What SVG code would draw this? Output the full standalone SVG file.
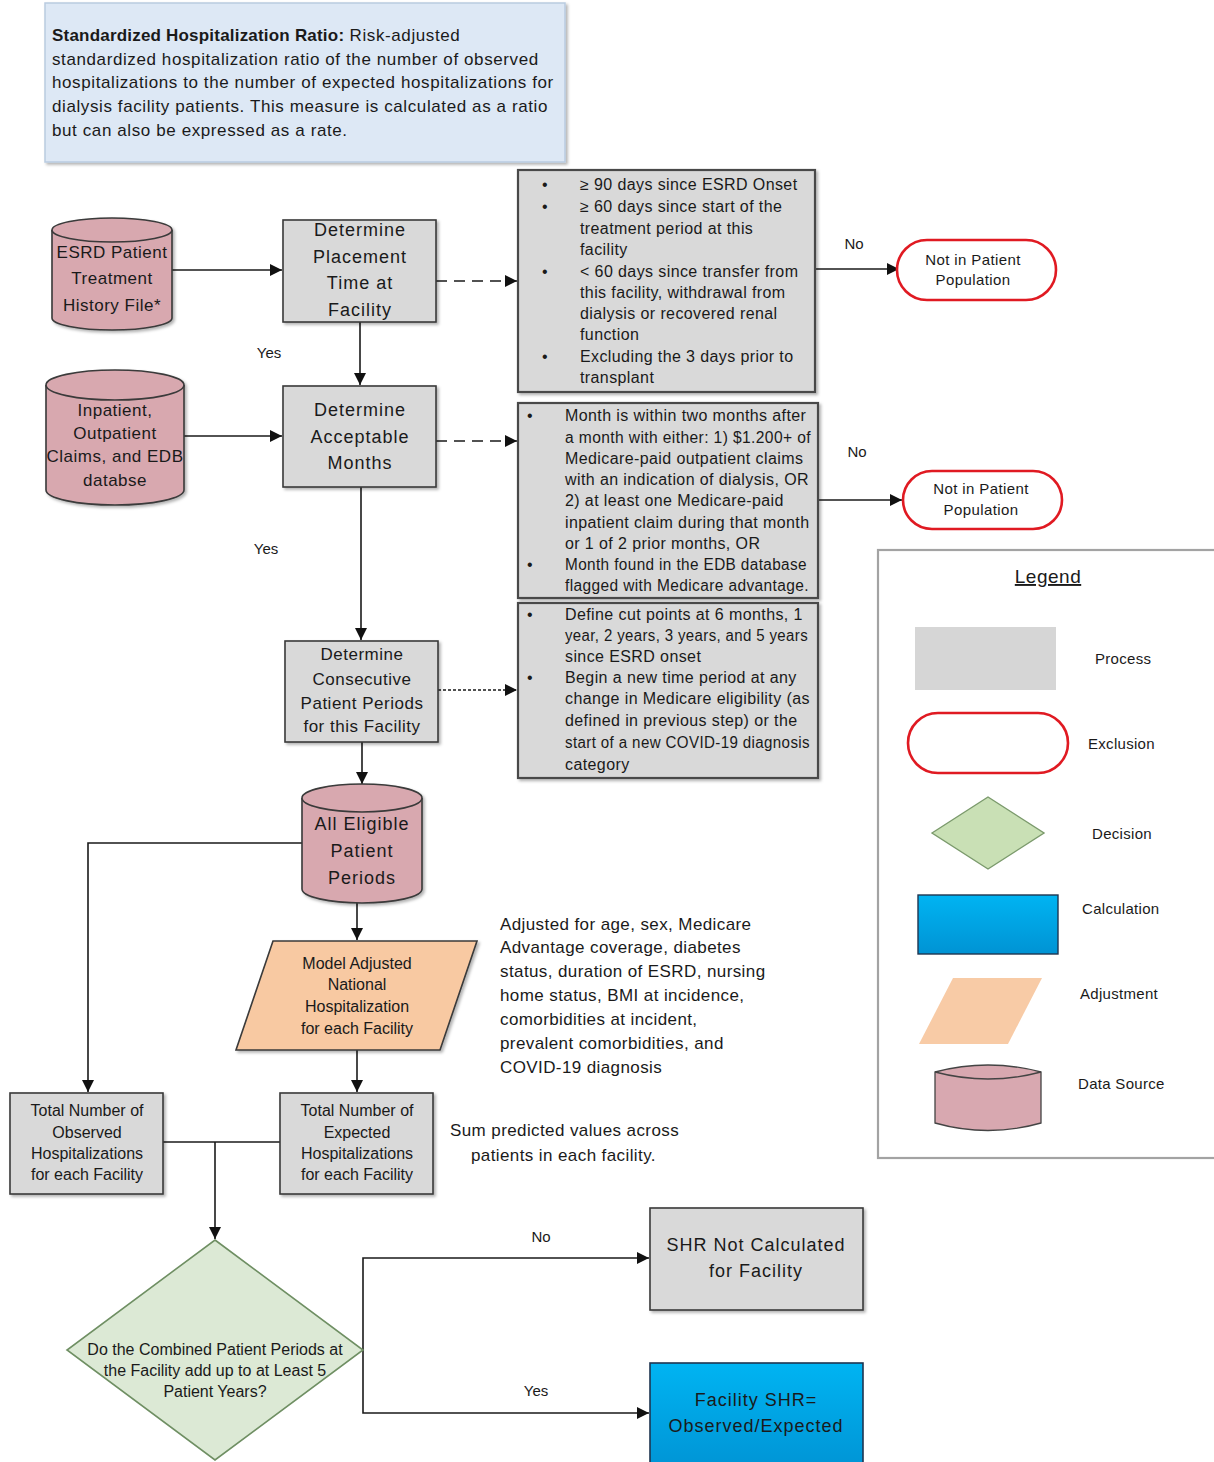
<svg xmlns="http://www.w3.org/2000/svg" width="1214" height="1462" viewBox="0 0 1214 1462">
<defs>
<style>
text{font-family:"Liberation Sans",Arial,sans-serif;fill:#1a1a1a}
.proc{fill:#d9d9d9;stroke:#3a3a3a;stroke-width:1.6}
.crit{fill:#d9d9d9;stroke:#4a4a4a;stroke-width:2.2}
.cyl{fill:#d8a8af;stroke:#3a3a3a;stroke-width:1.6}
.excl{fill:#fff;stroke:#e01a22;stroke-width:2.6}
.t17{font-size:17px;letter-spacing:0.4px}
.intro{font-size:17px;letter-spacing:0.6px}
.pt{font-size:18px;letter-spacing:1px;text-anchor:middle}
.ct{font-size:17px;letter-spacing:0.5px;text-anchor:middle}
.bt{font-size:16px;text-anchor:middle}
.rt{font-size:16px;letter-spacing:0.4px}
.et{font-size:15px;letter-spacing:0.4px;text-anchor:middle}
.lt{font-size:15px;letter-spacing:0.3px}
.conn{fill:none;stroke:#1a1a1a;stroke-width:1.6}
.lbl{font-size:15px}
</style>
<marker id="ah" viewBox="0 0 10 10" refX="10" refY="5" markerWidth="13" markerHeight="12" markerUnits="userSpaceOnUse" orient="auto">
<path d="M0,0 L10,5 L0,10 z" fill="#111"/>
</marker>
<filter id="sh" x="-10%" y="-10%" width="130%" height="130%">
<feDropShadow dx="2" dy="2" stdDeviation="1.5" flood-color="#000" flood-opacity="0.3"/>
</filter>
<linearGradient id="blue" x1="0" y1="0" x2="0" y2="1">
<stop offset="0" stop-color="#00b4f2"/>
<stop offset="1" stop-color="#0093d4"/>
</linearGradient>
</defs>
<rect width="1214" height="1462" fill="#fff"/>

<g id="intro">
<rect x="45" y="3" width="520" height="159" fill="#dde8f5" stroke="#b9cbe0" stroke-width="1.5" filter="url(#sh)"/>
<text class="intro" x="52" y="41"><tspan font-weight="bold" letter-spacing="0.2">Standardized Hospitalization Ratio:</tspan> Risk-adjusted</text>
<text class="intro" x="52" y="65">standardized hospitalization ratio of the number of observed</text>
<text class="intro" x="52" y="88">hospitalizations to the number of expected hospitalizations for</text>
<text class="intro" x="52" y="112">dialysis facility patients. This measure is calculated as a ratio</text>
<text class="intro" x="52" y="136">but can also be expressed as a rate.</text>
</g>

<g id="connectors">
<path class="conn" d="M172,270 H282" marker-end="url(#ah)"/>
<path class="conn" d="M436,281 H517" stroke-dasharray="11 7" marker-end="url(#ah)"/>
<path class="conn" d="M815,269 H899" marker-end="url(#ah)"/>
<path class="conn" d="M360,322 V385" marker-end="url(#ah)"/>
<path class="conn" d="M184,436 H282" marker-end="url(#ah)"/>
<path class="conn" d="M436,441 H517" stroke-dasharray="11 7" marker-end="url(#ah)"/>
<path class="conn" d="M818,500 H902" marker-end="url(#ah)"/>
<path class="conn" d="M361,487 V640" marker-end="url(#ah)"/>
<path class="conn" d="M438,690 H517" stroke="#888" stroke-width="1" stroke-dasharray="3 2" marker-end="url(#ah)"/>
<path class="conn" d="M362,742 V784" marker-end="url(#ah)"/>
<path class="conn" d="M302,843 H88 V1092" marker-end="url(#ah)"/>
<path class="conn" d="M357,903 V940" marker-end="url(#ah)"/>
<path class="conn" d="M357,1050 V1092" marker-end="url(#ah)"/>
<path class="conn" d="M163,1142 H280"/>
<path class="conn" d="M215,1142 V1239" marker-end="url(#ah)"/>
<path class="conn" d="M363,1350 V1258 H649" marker-end="url(#ah)"/>
<path class="conn" d="M363,1350 V1413 H649" marker-end="url(#ah)"/>
<text class="lbl" x="269" y="358" text-anchor="middle">Yes</text>
<text class="lbl" x="266" y="554" text-anchor="middle">Yes</text>
<text class="lbl" x="854" y="249" text-anchor="middle">No</text>
<text class="lbl" x="857" y="457" text-anchor="middle">No</text>
<text class="lbl" x="541" y="1242" text-anchor="middle">No</text>
<text class="lbl" x="536" y="1396" text-anchor="middle">Yes</text>
</g>

<g id="esrd-file">
<path class="cyl" d="M52,230 A60,12 0 0 1 172,230 V318 A60,12 0 0 1 52,318 Z" filter="url(#sh)"/>
<path class="cyl" d="M52,230 A60,12 0 0 0 172,230" fill="none"/>
<text class="ct" x="112" y="258">ESRD Patient</text>
<text class="ct" x="112" y="284">Treatment</text>
<text class="ct" x="112" y="311">History File*</text>
</g>

<g id="placement">
<rect class="proc" x="283" y="220" width="153" height="102" filter="url(#sh)"/>
<text class="pt" x="360" y="236">Determine</text>
<text class="pt" x="360" y="263">Placement</text>
<text class="pt" x="360" y="289">Time at</text>
<text class="pt" x="360" y="316">Facility</text>
</g>

<g id="criteria-placement">
<rect class="crit" x="518" y="170" width="297" height="222" filter="url(#sh)"/>
<g class="rt">
<text x="542" y="190">•</text><text x="580" y="190">≥  90 days since ESRD Onset</text>
<text x="542" y="212">•</text><text x="580" y="212">≥ 60 days since start of the</text>
<text x="580" y="234">treatment period at this</text>
<text x="580" y="255">facility</text>
<text x="542" y="277">•</text><text x="580" y="277">&lt; 60 days since transfer from</text>
<text x="580" y="298">this facility, withdrawal from</text>
<text x="580" y="319">dialysis or recovered renal</text>
<text x="580" y="340">function</text>
<text x="542" y="362">•</text><text x="580" y="362">Excluding the 3 days prior to</text>
<text x="580" y="383">transplant</text>
</g>
</g>

<g id="exclusion-1">
<rect class="excl" x="897" y="240" width="159" height="60" rx="30" ry="30"/>
<text class="et" x="973" y="265">Not in Patient</text>
<text class="et" x="973" y="285">Population</text>
</g>

<g id="claims-db">
<path class="cyl" d="M46,385 A69,15 0 0 1 184,385 V490 A69,15 0 0 1 46,490 Z" filter="url(#sh)"/>
<path class="cyl" d="M46,385 A69,15 0 0 0 184,385" fill="none"/>
<text class="ct" x="115" y="416">Inpatient,</text>
<text class="ct" x="115" y="439">Outpatient</text>
<text class="ct" x="115" y="462">Claims, and EDB</text>
<text class="ct" x="115" y="486">databse</text>
</g>

<g id="acceptable">
<rect class="proc" x="283" y="386" width="153" height="101" filter="url(#sh)"/>
<text class="pt" x="360" y="416">Determine</text>
<text class="pt" x="360" y="443">Acceptable</text>
<text class="pt" x="360" y="469">Months</text>
</g>

<g id="criteria-months">
<rect class="crit" x="518" y="403" width="300" height="195" filter="url(#sh)"/>
<g class="rt">
<text x="527" y="421">•</text><text x="565" y="421">Month is within two months after</text>
<text x="565" y="443" textLength="246" lengthAdjust="spacingAndGlyphs">a month with either: 1) $1.200+ of</text>
<text x="565" y="464">Medicare-paid outpatient claims</text>
<text x="565" y="485">with an indication of dialysis, OR</text>
<text x="565" y="506">2)  at least one Medicare-paid</text>
<text x="565" y="528">inpatient claim during that month</text>
<text x="565" y="549">or 1 of 2 prior months, OR</text>
<text x="527" y="570">•</text><text x="565" y="570" textLength="242" lengthAdjust="spacingAndGlyphs">Month found in the EDB database</text>
<text x="565" y="591" textLength="244" lengthAdjust="spacingAndGlyphs">flagged with Medicare advantage.</text>
</g>
</g>

<g id="exclusion-2">
<rect class="excl" x="903" y="471" width="159" height="58" rx="29" ry="29"/>
<text class="et" x="981" y="494">Not in Patient</text>
<text class="et" x="981" y="515">Population</text>
</g>

<g id="consecutive">
<rect class="proc" x="285" y="641" width="153" height="101" filter="url(#sh)"/>
<text class="ct" x="362" y="660">Determine</text>
<text class="ct" x="362" y="685">Consecutive</text>
<text class="ct" x="362" y="709" letter-spacing="0.2">Patient Periods</text>
<text class="ct" x="362" y="732" letter-spacing="0.2">for this Facility</text>
</g>

<g id="criteria-periods">
<rect class="crit" x="518" y="603" width="300" height="175" filter="url(#sh)"/>
<g class="rt">
<text x="527" y="620">•</text><text x="565" y="620">Define cut points at 6 months, 1</text>
<text x="565" y="641" textLength="243" lengthAdjust="spacingAndGlyphs">year, 2 years, 3 years, and 5 years</text>
<text x="565" y="662">since ESRD onset</text>
<text x="527" y="683">•</text><text x="565" y="683">Begin a new time period at any</text>
<text x="565" y="704">change in Medicare eligibility (as</text>
<text x="565" y="726">defined in previous step) or the</text>
<text x="565" y="748" textLength="245" lengthAdjust="spacingAndGlyphs">start of a new COVID-19 diagnosis</text>
<text x="565" y="770">category</text>
</g>
</g>

<g id="eligible-periods">
<path class="cyl" d="M302,798 A60,14 0 0 1 422,798 V889 A60,14 0 0 1 302,889 Z" filter="url(#sh)"/>
<path class="cyl" d="M302,798 A60,14 0 0 0 422,798" fill="none"/>
<text class="pt" x="362" y="830" letter-spacing="0.5">All Eligible</text>
<text class="pt" x="362" y="857" letter-spacing="0.5">Patient</text>
<text class="pt" x="362" y="884" letter-spacing="0.5">Periods</text>
</g>

<g id="model-adjusted">
<polygon points="273,941 477,941 440,1050 236,1050" fill="#f8c9a2" stroke="#3a3a3a" stroke-width="1.6" filter="url(#sh)"/>
<text class="bt" x="357" y="969" font-size="15.5">Model Adjusted</text>
<text class="bt" x="357" y="990" font-size="15.5">National</text>
<text class="bt" x="357" y="1012" font-size="15.5">Hospitalization</text>
<text class="bt" x="357" y="1034" font-size="15.5">for each Facility</text>
</g>

<g id="adjust-note">
<text class="t17" x="500" y="930">Adjusted for age, sex, Medicare</text>
<text class="t17" x="500" y="953">Advantage coverage, diabetes</text>
<text class="t17" x="500" y="977">status, duration of ESRD, nursing</text>
<text class="t17" x="500" y="1001">home status, BMI at incidence,</text>
<text class="t17" x="500" y="1025">comorbidities at incident,</text>
<text class="t17" x="500" y="1049">prevalent comorbidities, and</text>
<text class="t17" x="500" y="1073">COVID-19 diagnosis</text>
</g>

<g id="observed">
<rect class="proc" x="10" y="1093" width="153" height="101" filter="url(#sh)"/>
<text class="bt" x="87" y="1116">Total Number of</text>
<text class="bt" x="87" y="1138">Observed</text>
<text class="bt" x="87" y="1159">Hospitalizations</text>
<text class="bt" x="87" y="1180">for each Facility</text>
</g>

<g id="expected">
<rect class="proc" x="280" y="1093" width="153" height="101" filter="url(#sh)"/>
<text class="bt" x="357" y="1116">Total Number of</text>
<text class="bt" x="357" y="1138">Expected</text>
<text class="bt" x="357" y="1159">Hospitalizations</text>
<text class="bt" x="357" y="1180">for each Facility</text>
</g>

<g id="sum-note">
<text class="t17" x="450" y="1136">Sum predicted values across</text>
<text class="t17" x="471" y="1161">patients in each facility.</text>
</g>

<g id="decision">
<polygon points="215,1240 363,1350 215,1460 67,1350" fill="#dce9d5" stroke="#6f8f63" stroke-width="1.6"/>
<text class="bt" x="215" y="1355" font-size="14.5">Do the Combined Patient Periods at</text>
<text class="bt" x="215" y="1376" font-size="14.5">the Facility add up to at Least 5</text>
<text class="bt" x="215" y="1397" font-size="14.5">Patient Years?</text>
</g>

<g id="shr-not">
<rect class="proc" x="650" y="1208" width="213" height="102" filter="url(#sh)"/>
<text class="pt" x="756" y="1251" letter-spacing="0.6">SHR Not Calculated</text>
<text class="pt" x="756" y="1277" letter-spacing="0.6">for Facility</text>
</g>

<g id="shr-calc">
<rect x="650" y="1363" width="213" height="110" fill="url(#blue)" stroke="#1f3550" stroke-width="1.6"/>
<text class="pt" x="756" y="1406" letter-spacing="0.4">Facility SHR=</text>
<text class="pt" x="756" y="1432" font-size="19" letter-spacing="0.4">Observed/Expected</text>
</g>

<g id="legend">
<rect x="878" y="550" width="345" height="608" fill="#fff" stroke="#a3a3a3" stroke-width="2.2"/>
<text x="1048" y="583" font-size="19" text-anchor="middle" text-decoration="underline" letter-spacing="0.5">Legend</text>
<rect x="915" y="627" width="141" height="63" fill="#d6d6d6"/>
<text class="lt" x="1095" y="664">Process</text>
<rect x="908" y="713" width="160" height="60" rx="30" ry="30" fill="#fff" stroke="#e01a22" stroke-width="2.6"/>
<text class="lt" x="1088" y="749">Exclusion</text>
<polygon points="932,833 988,797 1044,833 988,869" fill="#c9e0b5" stroke="#7b9a6c" stroke-width="1.4"/>
<text class="lt" x="1092" y="839">Decision</text>
<rect x="918" y="895" width="140" height="59" fill="url(#blue)" stroke="#1f3550" stroke-width="1.4"/>
<text class="lt" x="1082" y="914">Calculation</text>
<polygon points="953,978 1042,978 1008,1044 919,1044" fill="#f8cba6"/>
<text class="lt" x="1080" y="999">Adjustment</text>
<path d="M935,1072 Q988,1058 1041,1072 V1123 Q988,1138 935,1123 Z" fill="#d8a8b0" stroke="#444" stroke-width="1.3"/>
<path d="M935,1072 Q988,1086 1041,1072" fill="none" stroke="#444" stroke-width="1.3"/>
<text class="lt" x="1078" y="1089">Data Source</text>
</g>
</svg>
